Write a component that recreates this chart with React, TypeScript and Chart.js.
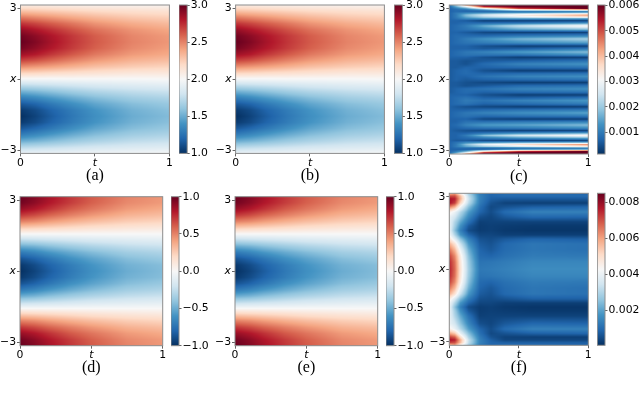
import React, { useEffect, useRef } from "react";
import { Chart, registerables, ScatterController } from "chart.js";

const rdBuR = ["#053061", "#2166ac", "#4393c3", "#92c5de", "#d1e5f0", "#f7f7f7", "#fddbc7", "#f4a582", "#d6604d", "#b2182b", "#67001f"];

// ---- u(t,x), reference and prediction: columns are t, rows are x from top to bottom
const tSmooth = [0, 0.1, 0.2, 0.35, 0.5, 0.75, 1];
const xSmooth = [3.14, 2.88, 2.62, 2.36, 2.09, 1.83, 1.57, 1.31, 1.05, 0.79, 0.52, 0.26, 0, -0.26, -0.52, -0.79, -1.05, -1.31, -1.57, -1.83, -2.09, -2.36, -2.62, -2.88, -3.14];
const solutionU = [
  [2.08, 2.08, 2.07, 2.06, 2.05, 2.04, 2.03],
  [2.30, 2.28, 2.26, 2.23, 2.20, 2.17, 2.15],
  [2.52, 2.48, 2.44, 2.38, 2.33, 2.27, 2.24],
  [2.72, 2.67, 2.61, 2.53, 2.45, 2.37, 2.32],
  [2.88, 2.81, 2.74, 2.64, 2.55, 2.45, 2.39],
  [2.97, 2.90, 2.82, 2.71, 2.61, 2.49, 2.43],
  [3.00, 2.93, 2.84, 2.72, 2.62, 2.50, 2.44],
  [2.96, 2.89, 2.81, 2.70, 2.60, 2.48, 2.42],
  [2.85, 2.80, 2.72, 2.62, 2.53, 2.43, 2.38],
  [2.68, 2.64, 2.58, 2.50, 2.43, 2.35, 2.31],
  [2.46, 2.43, 2.40, 2.35, 2.30, 2.25, 2.22],
  [2.22, 2.21, 2.19, 2.17, 2.15, 2.12, 2.11],
  [1.98, 1.98, 1.98, 1.99, 1.99, 1.99, 2.00],
  [1.74, 1.76, 1.78, 1.81, 1.84, 1.87, 1.89],
  [1.52, 1.55, 1.59, 1.65, 1.70, 1.75, 1.78],
  [1.31, 1.36, 1.42, 1.50, 1.57, 1.65, 1.69],
  [1.15, 1.20, 1.28, 1.38, 1.47, 1.57, 1.62],
  [1.04, 1.10, 1.19, 1.30, 1.40, 1.52, 1.58],
  [1.00, 1.07, 1.16, 1.28, 1.38, 1.50, 1.56],
  [1.04, 1.10, 1.19, 1.30, 1.40, 1.52, 1.58],
  [1.15, 1.21, 1.28, 1.38, 1.47, 1.57, 1.62],
  [1.31, 1.36, 1.42, 1.50, 1.57, 1.65, 1.69],
  [1.50, 1.53, 1.57, 1.63, 1.68, 1.74, 1.77],
  [1.72, 1.74, 1.76, 1.79, 1.82, 1.85, 1.87],
  [1.93, 1.94, 1.94, 1.95, 1.96, 1.97, 1.98],
];

// ---- v(t,x), reference and prediction
const solutionV = [
  [1.00, 0.93, 0.84, 0.72, 0.62, 0.50, 0.44],
  [0.97, 0.90, 0.81, 0.70, 0.60, 0.48, 0.43],
  [0.87, 0.81, 0.73, 0.62, 0.54, 0.43, 0.38],
  [0.71, 0.66, 0.59, 0.51, 0.44, 0.35, 0.31],
  [0.50, 0.47, 0.42, 0.36, 0.31, 0.25, 0.22],
  [0.26, 0.24, 0.22, 0.19, 0.16, 0.13, 0.11],
  [0.00, 0.00, 0.00, 0.00, 0.00, 0.00, 0.00],
  [-0.26, -0.24, -0.22, -0.19, -0.16, -0.13, -0.11],
  [-0.50, -0.47, -0.42, -0.36, -0.31, -0.25, -0.22],
  [-0.71, -0.66, -0.59, -0.51, -0.44, -0.35, -0.31],
  [-0.87, -0.81, -0.73, -0.62, -0.54, -0.43, -0.38],
  [-0.97, -0.90, -0.81, -0.70, -0.60, -0.48, -0.43],
  [-1.00, -0.93, -0.84, -0.72, -0.62, -0.50, -0.44],
  [-0.97, -0.90, -0.81, -0.70, -0.60, -0.48, -0.43],
  [-0.87, -0.81, -0.73, -0.62, -0.54, -0.43, -0.38],
  [-0.71, -0.66, -0.59, -0.51, -0.44, -0.35, -0.31],
  [-0.50, -0.47, -0.42, -0.36, -0.31, -0.25, -0.22],
  [-0.26, -0.24, -0.22, -0.19, -0.16, -0.13, -0.11],
  [0.00, 0.00, 0.00, 0.00, 0.00, 0.00, 0.00],
  [0.26, 0.24, 0.22, 0.19, 0.16, 0.13, 0.11],
  [0.50, 0.47, 0.42, 0.36, 0.31, 0.25, 0.22],
  [0.71, 0.66, 0.59, 0.51, 0.44, 0.35, 0.31],
  [0.87, 0.81, 0.73, 0.62, 0.54, 0.43, 0.38],
  [0.97, 0.90, 0.81, 0.70, 0.60, 0.48, 0.43],
  [1.00, 0.93, 0.84, 0.72, 0.62, 0.50, 0.44],
];

// ---- panel (c) error, in thousandths
const tErrorU = [0, 0.05, 0.12, 0.25, 0.5, 1];
const xErrorU = [3.14, 3.06, 2.99, 2.94, 2.89, 2.85, 2.80, 2.72, 2.64, 2.57, 2.48, 2.38, 2.26, 2.11, 1.99, 1.83, 1.71, 1.54, 1.41, 1.29, 1.16, 1.03, 0.94, 0.78, 0.65, 0.51, 0.37, 0.25, 0.13, 0, -0.13, -0.27, -0.40, -0.53, -0.65, -0.78, -0.89, -1.03, -1.15, -1.29, -1.41, -1.54, -1.67, -1.79, -1.92, -2.05, -2.16, -2.26, -2.36, -2.47, -2.58, -2.66, -2.74, -2.83, -2.89, -2.95, -3.02, -3.08, -3.14];
const errorU = [
  [.9, 2.2, 4.5, 6.2, 6.2, 6.2], [.7, 1.5, 2.5, 5.2, 6.0, 6.2], [.7, 1.0, 1.4, 2.8, 5.0, 6.0], [.7, .8, .9, 1.4, 3.0, 3.8],
  [.7, .8, .7, .8, 1.4, 1.6], [.7, .8, .8, .8, .7, .8], [.7, 1.0, 1.2, 1.4, 1.8, 2.4], [.7, 1.0, 1.8, 2.6, 3.4, 4.4],
  [.7, 1.0, 1.6, 2.2, 2.8, 3.5], [.7, .9, 1.2, 1.4, 1.5, 1.5], [.7, .7, .6, .3, .3, .3], [.7, .7, .8, .8, .9, 1.3],
  [.7, .8, 1.0, 1.6, 2.4, 3.2], [.7, .8, .9, 1.1, 1.5, 1.8], [.7, .7, .6, .4, .3, .3], [.7, .8, .8, .8, 1.0, 1.2],
  [.7, .8, 1.0, 1.3, 1.7, 2.1], [.7, .8, .9, 1.0, 1.2, 1.4], [.7, .7, .7, .5, .3, .3], [.7, .7, .7, .6, .7, 1.0],
  [.7, .8, .95, 1.1, 1.4, 1.8], [.7, .8, .9, .9, .9, 1.2], [.7, .7, .7, .5, .3, .3], [.6, .6, .5, .6, .7, .9],
  [.6, .6, .5, .8, 1.1, 1.3], [.6, .6, .7, .7, .8, .9], [.6, .7, .8, .5, .3, .3], [.6, .7, .8, .7, .8, .9],
  [.6, .7, .7, .9, 1.1, 1.25], [.6, .7, .6, .7, .8, .9], [.6, .6, .5, .4, .3, .3], [.6, .6, .5, .6, .8, .9],
  [.6, .7, .8, .9, 1.1, 1.25], [.6, .7, .8, .7, .8, .9], [.7, .7, .7, .5, .3, .3], [.7, .8, .9, .7, .7, .9],
  [.7, .8, 1.0, .9, 1.1, 1.35], [.7, .8, .9, .7, .8, 1.0], [.7, .6, .5, .4, .3, .3], [.7, .7, .7, .8, .9, 1.0],
  [.7, .8, .95, 1.1, 1.25, 1.5], [.7, .8, .9, .8, .9, 1.0], [.7, .7, .7, .4, .3, .3], [.7, .7, .9, .9, 1.0, 1.1],
  [.7, .8, 1.1, 1.4, 1.5, 1.8], [.7, .7, .8, .9, 1.0, 1.2], [.7, .6, .5, .4, .3, .3], [.7, .7, .7, .9, 1.2, 1.5],
  [.7, .7, 1.0, 1.8, 2.5, 3.2], [.7, .7, .8, 1.0, 1.3, 1.6], [.7, .6, .6, .4, .3, .3], [.7, .9, 1.2, 1.4, 1.6, 1.8],
  [.7, 1.0, 1.8, 2.8, 3.5, 4.4], [.7, 1.0, 1.5, 2.0, 2.6, 3.3], [.7, .8, .8, .7, .7, .8], [.7, .7, .7, .8, 1.4, 1.6],
  [.7, .9, 1.4, 3.0, 5.0, 6.0], [.7, 1.4, 2.6, 5.2, 6.0, 6.2], [1.0, 2.4, 4.6, 6.2, 6.2, 6.2],
];

// ---- panel (f) error, in thousandths
const tErrorV = [0, 0.04, 0.08, 0.14, 0.22, 0.3, 0.4, 0.6, 1];
const xErrorV = [3.14, 3.03, 2.91, 2.74, 2.58, 2.37, 2.16, 1.96, 1.79, 1.60, 1.42, 1.25, 1.05, 0.80, 0.55, 0.30, 0, -0.28, -0.53, -0.77, -1.02, -1.23, -1.39, -1.56, -1.72, -1.93, -2.25, -2.47, -2.66, -2.80, -2.92, -3.03, -3.14];
const errorV = [
  [5.5, 6, 4.5, 2.8, 1.3, .9, 1, 1, .9],
  [7, 7, 5.6, 3.2, 1.4, .9, 1, 1, 1],
  [7.8, 7.6, 5.8, 3.4, 1.4, .8, .7, .7, .7],
  [7.8, 7.2, 5.2, 3.1, 1.3, .6, .35, .3, .3],
  [6.5, 5.8, 4.2, 2.5, 1.1, .45, .6, .8, .9],
  [4.6, 4, 3.1, 1.9, .9, .5, 1.0, 1.4, 1.4],
  [4, 3.5, 2.6, 1.5, .55, .4, .7, .95, .9],
  [4, 3, 2.1, 1.1, .3, .35, .35, .35, .35],
  [4, 2.8, 1.7, .7, .25, .3, .25, .2, .2],
  [4, 2.5, 1.4, .5, .25, .3, .2, .15, .15],
  [4.3, 3, 1.8, .9, .4, .4, .3, .3, .3],
  [4.9, 3.8, 2.6, 1.4, .6, .5, .7, .9, .8],
  [5.8, 4.9, 3.4, 1.8, .75, .6, .95, 1.2, 1.1],
  [6.6, 5.7, 4.1, 2.2, .9, .7, 1.0, 1.2, 1.1],
  [7.2, 6.3, 4.6, 2.5, 1, .9, 1.1, 1.3, 1.25],
  [7.5, 6.6, 4.8, 2.7, 1.15, 1.2, 1.3, 1.5, 1.5],
  [7.6, 6.7, 4.9, 2.8, 1.25, 1.3, 1.4, 1.6, 1.6],
  [7.5, 6.6, 4.8, 2.7, 1.15, 1.2, 1.3, 1.5, 1.5],
  [7.2, 6.3, 4.6, 2.5, 1, .9, 1.1, 1.3, 1.25],
  [6.6, 5.7, 4.1, 2.2, .9, .7, 1.0, 1.2, 1.1],
  [5.8, 4.9, 3.4, 1.8, .75, .6, .95, 1.2, 1.1],
  [4.7, 3.6, 2.4, 1.3, .55, .5, .6, .8, .8],
  [4.2, 3, 1.8, .9, .4, .4, .3, .3, .3],
  [4, 2.5, 1.4, .5, .25, .3, .2, .15, .15],
  [4, 2.8, 1.7, .7, .25, .3, .25, .2, .2],
  [4, 3, 2.1, 1.1, .3, .35, .35, .35, .35],
  [4, 3.5, 2.6, 1.5, .55, .4, .7, .95, .9],
  [4.6, 4, 3.1, 1.9, .9, .5, 1.0, 1.4, 1.4],
  [6, 5.5, 4, 2.5, 1.1, .45, .6, .8, .9],
  [7.2, 6.8, 5, 2.9, 1.3, .6, .35, .3, .3],
  [7.8, 7.6, 5.8, 3.3, 1.4, .8, .4, .4, .4],
  [7.2, 7, 5.6, 3.2, 1.4, .9, .8, .8, .8],
  [5.5, 6, 4.5, 2.8, 1.3, .9, 1, 1, .9],
];

// ---- axes
const xAxisTicks = [0, 0.5, 1];
const xAxisLabels = ["0", "t", "1"];
const yAxisTicks = [-3, 0, 3];
const yAxisLabels = ["\u22123", "x", "3"];
const ticksU = [1, 1.5, 2, 2.5, 3];
const labelsU = ["1.0", "1.5", "2.0", "2.5", "3.0"];
const ticksV = [-1, -0.5, 0, 0.5, 1];
const labelsV = ["\u22121.0", "\u22120.5", "0.0", "0.5", "1.0"];
const ticksErrU = [0.001, 0.002, 0.003, 0.004, 0.005, 0.006];
const labelsErrU = ["0.001", "0.002", "0.003", "0.004", "0.005", "0.006"];
const ticksErrV = [0.002, 0.004, 0.006, 0.008];
const labelsErrV = ["0.002", "0.004", "0.006", "0.008"];

const panels = [
  { cap: "(a)", t: tSmooth, x: xSmooth, z: solutionU, k: 1, vmin: 1, vmax: 3, ticks: ticksU, labels: labelsU, box: [20.5, 5, 169.4, 153.4], cb: [179, 187.2] },
  { cap: "(b)", t: tSmooth, x: xSmooth, z: solutionU, k: 1, vmin: 1, vmax: 3, ticks: ticksU, labels: labelsU, box: [235.6, 5, 384.4, 153.4], cb: [394.2, 402.4] },
  { cap: "(c)", t: tErrorU, x: xErrorU, z: errorU, k: 0.001, vmin: 0.00014, vmax: 0.00602, ticks: ticksErrU, labels: labelsErrU, box: [449.3, 5, 588.3, 154], cb: [597.3, 605] },
  { cap: "(d)", t: tSmooth, x: xSmooth, z: solutionV, k: 1, vmin: -1, vmax: 1, ticks: ticksV, labels: labelsV, box: [20, 196.7, 162.7, 345.7], cb: [171, 179] },
  { cap: "(e)", t: tSmooth, x: xSmooth, z: solutionV, k: 1, vmin: -1, vmax: 1, ticks: ticksV, labels: labelsV, box: [235, 196.7, 377.7, 345.7], cb: [386, 394] },
  { cap: "(f)", t: tErrorV, x: xErrorV, z: errorV, k: 0.001, vmin: 0.00006, vmax: 0.0085, ticks: ticksErrV, labels: labelsErrV, box: [449.3, 193.3, 588.3, 345.3], cb: [597.3, 605] },
];

const stops = rdBuR.map((h) => [parseInt(h.slice(1, 3), 16), parseInt(h.slice(3, 5), 16), parseInt(h.slice(5, 7), 16)]);
function colour(f: number) {
  const p = Math.max(0, Math.min(1, f)) * (stops.length - 1);
  const i = Math.min(stops.length - 2, Math.floor(p));
  const w = p - i;
  return [0, 1, 2].map((c) => stops[i][c] + (stops[i + 1][c] - stops[i][c]) * w);
}

function segment(knots: number[], p: number) {
  let i = 0;
  while (i < knots.length - 2 && p > knots[i + 1]) i++;
  const w = Math.max(0, Math.min(1, (p - knots[i]) / (knots[i + 1] - knots[i])));
  return [i, w];
}

// A scatter controller whose points (placed by the chart's scales) are the nodes of
// an image drawn with bilinear shading, like imshow(interpolation="bilinear").
class HeatmapController extends ScatterController {
  static id = "heatmap";
  static defaults = { ...ScatterController.defaults };
  static overrides = ScatterController.overrides;
  draw() {
    const chart: any = (this as any).chart;
    const ds: any = (this as any).getDataset();
    const pts: any[] = (this as any).getMeta().data;
    const nT = ds.nT;
    const nX = pts.length / nT;
    const xs: number[] = [];
    const ys: number[] = [];
    for (let j = 0; j < nT; j++) xs.push(pts[j].x);
    for (let i = 0; i < nX; i++) ys.push(pts[i * nT].y);
    const a = chart.chartArea;
    const L = Math.floor(a.left), T = Math.floor(a.top);
    const W = Math.ceil(a.right) - L, H = Math.ceil(a.bottom) - T;
    const off = document.createElement("canvas");
    off.width = W;
    off.height = H;
    const octx = off.getContext("2d")!;
    const img = octx.createImageData(W, H);
    for (let py = 0; py < H; py++) {
      const [i, wy] = segment(ys, T + py + 0.5);
      for (let px = 0; px < W; px++) {
        const [j, wx] = segment(xs, L + px + 0.5);
        const v00 = ds.data[i * nT + j].v, v01 = ds.data[i * nT + j + 1].v;
        const v10 = ds.data[(i + 1) * nT + j].v, v11 = ds.data[(i + 1) * nT + j + 1].v;
        const v = (v00 * (1 - wx) + v01 * wx) * (1 - wy) + (v10 * (1 - wx) + v11 * wx) * wy;
        const c = colour((v - ds.vmin) / (ds.vmax - ds.vmin));
        const o = (py * W + px) * 4;
        img.data[o] = c[0];
        img.data[o + 1] = c[1];
        img.data[o + 2] = c[2];
        img.data[o + 3] = 255;
      }
    }
    octx.putImageData(img, 0, 0);
    const ctx = chart.ctx;
    ctx.save();
    ctx.beginPath();
    ctx.rect(a.left, a.top, a.right - a.left, a.bottom - a.top);
    ctx.clip();
    ctx.drawImage(off, L, T);
    ctx.restore();
  }
}

Chart.register(...registerables, HeatmapController as any);

const framePlugin = {
  id: "frame",
  afterDatasetsDraw(chart: any) {
    const a = chart.chartArea;
    const ctx = chart.ctx;
    ctx.save();
    ctx.strokeStyle = "#8c8c8c";
    ctx.lineWidth = 1;
    ctx.strokeRect(a.left, a.top, a.right - a.left, a.bottom - a.top);
    ctx.restore();
  },
};

const FONT = "'DejaVu Sans'";
const TEXT = "#000";
const TOP_PAD = 8;

function Panel({ p }: { p: (typeof panels)[number] }) {
  const mainRef = useRef<HTMLCanvasElement>(null);
  const barRef = useRef<HTMLCanvasElement>(null);
  const [l, t, r, b] = p.box;
  const mainLeft = Math.floor(l) - 20;
  const mainTop = Math.floor(t) - TOP_PAD;
  const axisH = 32;
  const mainW = Math.ceil(r) + 8 - mainLeft;
  const mainH = Math.ceil(b + axisH) - mainTop;
  const barLeft = Math.floor(p.cb[0]);
  const barW = 52;
  const barH = Math.ceil(b) + TOP_PAD - mainTop;

  useEffect(() => {
    const data: any[] = [];
    p.x.forEach((xv, i) => p.t.forEach((tv, j) => data.push({ x: tv, y: xv, v: p.z[i][j] * p.k })));
    const tickFont = (ctx: any) => ({
      family: FONT,
      size: 10.8,
      style: ctx.tick && (ctx.tick.label === "t" || ctx.tick.label === "x") ? "italic" : "normal",
    });
    const main = new Chart(mainRef.current!, {
      type: "heatmap" as any,
      plugins: [framePlugin],
      data: { datasets: [{ data, nT: p.t.length, vmin: p.vmin, vmax: p.vmax, pointRadius: 0 } as any] },
      options: {
        animation: false,
        responsive: false,
        events: [],
        layout: { padding: { left: l - mainLeft - 20, top: t - mainTop, right: mainLeft + mainW - r, bottom: mainTop + mainH - b - axisH } },
        plugins: { legend: { display: false }, tooltip: { enabled: false } },
        scales: {
          x: {
            type: "linear",
            min: 0,
            max: 1,
            afterBuildTicks: (s: any) => { s.ticks = xAxisTicks.map((value) => ({ value })); },
            afterFit: (s: any) => { s.height = axisH; },
            grid: { drawOnChartArea: false, drawTicks: true, tickLength: 3, tickColor: "#666" },
            border: { display: false },
            title: { display: true, text: p.cap, color: "#000", font: { family: "'Liberation Serif'", size: 16 }, padding: { top: 0, bottom: 0 } },
            ticks: { autoSkip: false, maxRotation: 0, padding: 0, color: TEXT, font: tickFont, callback: (_v: any, i: number) => xAxisLabels[i] },
          },
          y: {
            type: "linear",
            min: -3.1416,
            max: 3.1416,
            afterBuildTicks: (s: any) => { s.ticks = yAxisTicks.map((value) => ({ value })); },
            afterFit: (s: any) => { s.width = 20; },
            grid: { drawOnChartArea: false, drawTicks: true, tickLength: 3, tickColor: "#666" },
            border: { display: false },
            ticks: { autoSkip: false, padding: 1, color: TEXT, font: tickFont, callback: (_v: any, i: number) => yAxisLabels[i] },
          },
        },
      } as any,
    });
    const bar = new Chart(barRef.current!, {
      type: "bar",
      plugins: [framePlugin],
      data: {
        labels: [p.cap],
        datasets: [{
          data: [[p.vmin, p.vmax]],
          barPercentage: 1,
          categoryPercentage: 1,
          backgroundColor: (ctx: any) => {
            const c = ctx.chart;
            if (!c.chartArea) return "#888";
            const g = c.ctx.createLinearGradient(0, c.chartArea.bottom, 0, c.chartArea.top);
            rdBuR.forEach((h, i) => g.addColorStop(i / (rdBuR.length - 1), h));
            return g;
          },
        } as any],
      },
      options: {
        animation: false,
        responsive: false,
        events: [],
        layout: { padding: { left: p.cb[0] - barLeft, top: t - mainTop, bottom: barH - (b - mainTop), right: 0 } },
        plugins: { legend: { display: false }, tooltip: { enabled: false } },
        scales: {
          x: { display: false },
          y: {
            position: "right",
            min: p.vmin,
            max: p.vmax,
            afterBuildTicks: (s: any) => { s.ticks = p.ticks.map((value) => ({ value })); },
            afterFit: (s: any) => { s.width = barW - (p.cb[1] - barLeft); },
            grid: { drawOnChartArea: false, drawTicks: true, tickLength: 2.5, tickColor: "#666" },
            border: { display: false },
            ticks: { autoSkip: false, padding: 1, color: TEXT, font: { family: FONT, size: 10.8 }, callback: (_v: any, i: number) => p.labels[i] },
          },
        },
      } as any,
    });
    return () => {
      main.destroy();
      bar.destroy();
    };
  }, []);

  return (
    <>
      <canvas ref={mainRef} width={mainW} height={mainH} style={{ position: "absolute", left: mainLeft, top: mainTop, width: mainW, height: mainH }} />
      <canvas ref={barRef} width={barW} height={barH} style={{ position: "absolute", left: barLeft, top: mainTop, width: barW, height: barH }} />
    </>
  );
}

export default function App() {
  return (
    <div style={{ position: "absolute", left: 0, top: 0, width: 640, height: 399, overflow: "hidden", background: "#fff", filter: "blur(0.35px)" }}>
      {panels.map((p) => (
        <Panel key={p.cap} p={p} />
      ))}
    </div>
  );
}
